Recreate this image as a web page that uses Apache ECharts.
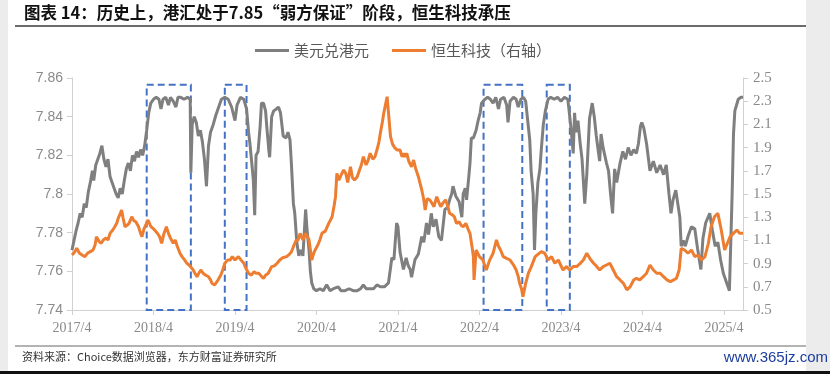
<!DOCTYPE html>
<html>
<head>
<meta charset="utf-8">
<script src="https://cdn.jsdelivr.net/npm/echarts@6/dist/echarts.min.js"></script>
<style>html,body{margin:0;padding:0;background:#fff;}#chart{width:830px;height:374px;}</style>
</head>
<body>
<div id="chart"></div>
<script>
// x = months since 2017/4
const xTickLabels = ['2017/4','2018/4','2019/4','2020/4','2021/4','2022/4','2023/4','2024/4','2025/4'];
const xTickMonths = [0,12,24,36,48,60,72,84,96];
const leftTicks = [7.74,7.76,7.78,7.80,7.82,7.84,7.86];
const rightTicks = [0.5,0.7,0.9,1.1,1.3,1.5,1.7,1.9,2.1,2.3,2.5];
const seriesNames = ['美元兑港元','恒生科技（右轴）'];
// peg "weak-side" periods (months since 2017/4)
const pegBoxes = [[11.0,17.5],[22.5,25.7],[60.6,66.3],[69.9,73.3]];

const usdHkdPoints = [
[0,7.771],[0.3,7.776],[0.6,7.781],[0.9,7.785],[1.2,7.790],[1.5,7.788],[1.8,7.795],[2.1,7.793],[2.4,7.801],[2.7,7.806],
[3.0,7.812],[3.2,7.807],[3.5,7.815],[3.8,7.818],[4.1,7.821],[4.4,7.825],[4.7,7.818],[5.0,7.814],[5.3,7.818],[5.6,7.809],
[5.9,7.806],[6.2,7.803],[6.5,7.800],[6.8,7.798],[7.1,7.803],[7.4,7.800],[7.7,7.807],[8.0,7.813],[8.3,7.816],[8.6,7.812],
[8.9,7.820],[9.2,7.817],[9.5,7.822],[9.8,7.819],[10.1,7.823],[10.4,7.820],[10.7,7.825],[11.0,7.833],[11.3,7.842],[11.6,7.847],
[12.0,7.849],[12.4,7.850],[12.8,7.849],[13.1,7.844],[13.4,7.849],[13.8,7.850],[14.2,7.846],[14.5,7.850],[14.9,7.848],[15.3,7.845],
[15.6,7.850],[16.0,7.850],[16.5,7.849],[17.0,7.850],[17.4,7.849],[17.5,7.811],[17.7,7.836],[18.0,7.840],[18.3,7.837],[18.6,7.830],
[18.9,7.833],[19.2,7.827],[19.5,7.818],[19.8,7.804],[20.1,7.825],[20.4,7.832],[20.8,7.836],[21.2,7.841],[21.6,7.845],[22.0,7.849],
[22.5,7.850],[23.0,7.849],[23.5,7.845],[24.0,7.838],[24.3,7.846],[24.8,7.850],[25.3,7.849],[25.7,7.844],[26.0,7.832],[26.2,7.826],
[26.5,7.815],[26.7,7.807],[26.9,7.789],[27.1,7.820],[27.4,7.822],[27.7,7.835],[27.9,7.847],[28.2,7.847],[28.5,7.843],[28.7,7.834],
[29.0,7.822],[29.1,7.819],[29.4,7.840],[29.7,7.843],[30.1,7.844],[30.4,7.845],[30.7,7.842],[31.1,7.830],[31.5,7.829],[31.8,7.832],
[32.1,7.828],[32.3,7.816],[32.6,7.795],[32.8,7.790],[33.1,7.775],[33.4,7.768],[33.7,7.771],[34.0,7.768],[34.4,7.792],[34.6,7.782],
[34.9,7.771],[35.1,7.760],[35.3,7.754],[35.6,7.751],[36.0,7.750],[36.5,7.751],[37.0,7.750],[37.5,7.753],[38.0,7.750],[38.5,7.751],
[39.2,7.752],[39.6,7.750],[40.2,7.750],[40.8,7.751],[41.4,7.750],[42.0,7.750],[42.5,7.751],[42.9,7.753],[43.3,7.751],[43.8,7.751],
[44.4,7.751],[44.9,7.753],[45.4,7.752],[46.0,7.752],[46.6,7.754],[47.1,7.767],[47.4,7.766],[47.8,7.785],[48.0,7.783],[48.3,7.770],
[48.8,7.761],[49.2,7.767],[49.5,7.763],[49.8,7.761],[50.0,7.757],[50.5,7.766],[51.0,7.769],[51.5,7.778],[51.8,7.775],[52.2,7.785],
[52.5,7.779],[52.9,7.790],[53.2,7.783],[53.6,7.787],[54.0,7.778],[54.4,7.776],[54.9,7.792],[55.3,7.793],[55.6,7.797],[55.9,7.800],
[56.1,7.804],[56.5,7.799],[57.0,7.796],[57.4,7.788],[57.6,7.800],[57.9,7.803],[58.1,7.797],[58.4,7.808],[58.6,7.816],[58.8,7.829],
[59.1,7.829],[59.5,7.833],[59.8,7.838],[60.1,7.842],[60.3,7.847],[60.8,7.849],[61.2,7.850],[61.6,7.849],[62.0,7.847],[62.4,7.850],
[62.8,7.844],[63.1,7.849],[63.6,7.850],[64.0,7.846],[64.2,7.837],[64.5,7.848],[65.0,7.850],[65.4,7.849],[65.7,7.845],[66.1,7.849],
[66.5,7.850],[66.8,7.848],[67.1,7.838],[67.4,7.828],[67.6,7.812],[67.9,7.800],[68.1,7.771],[68.3,7.790],[68.6,7.806],[68.9,7.813],
[69.1,7.823],[69.4,7.836],[69.7,7.843],[70.1,7.849],[70.5,7.850],[71.0,7.849],[71.5,7.850],[72.0,7.848],[72.5,7.850],[73.0,7.849],
[73.2,7.843],[73.5,7.833],[73.8,7.821],[74.0,7.842],[74.2,7.832],[74.5,7.838],[74.8,7.827],[75.1,7.818],[75.5,7.795],[75.8,7.810],
[76.2,7.839],[76.6,7.847],[76.9,7.840],[77.2,7.830],[77.5,7.822],[77.7,7.817],[77.9,7.831],[78.2,7.824],[78.7,7.816],[79.0,7.812],
[79.3,7.800],[79.6,7.790],[79.9,7.813],[80.2,7.806],[80.7,7.816],[81.1,7.822],[81.5,7.818],[81.9,7.824],[82.3,7.820],[82.7,7.823],
[83.1,7.821],[83.4,7.826],[83.7,7.835],[83.9,7.837],[84.2,7.834],[84.6,7.826],[85.1,7.812],[85.6,7.817],[86.1,7.811],[86.6,7.815],
[87.1,7.810],[87.5,7.815],[87.9,7.800],[88.2,7.790],[88.5,7.797],[88.9,7.802],[89.2,7.795],[89.5,7.788],[89.7,7.773],[90.0,7.776],
[90.3,7.773],[90.7,7.778],[91.2,7.783],[91.7,7.782],[92.1,7.772],[92.6,7.761],[92.9,7.777],[93.3,7.785],[93.9,7.790],[94.3,7.781],
[94.7,7.773],[95.1,7.775],[95.5,7.766],[95.9,7.759],[96.4,7.754],[96.8,7.750],[97.0,7.775],[97.2,7.800],[97.4,7.831],[97.6,7.843],
[98.1,7.849],[98.5,7.850],[98.8,7.850]
];

const hstechPoints = [
[0,0.974],[0.4,1.00],[0.7,1.032],[1.1,0.99],[1.5,0.975],[1.9,0.960],[2.3,0.99],[2.7,1.003],[3.1,1.017],[3.4,1.06],
[3.6,1.132],[4.0,1.09],[4.3,1.075],[4.6,1.104],[5.0,1.12],[5.3,1.104],[5.6,1.161],[6.0,1.19],[6.3,1.218],[6.6,1.25],
[6.8,1.290],[7.1,1.33],[7.3,1.362],[7.5,1.30],[7.8,1.218],[8.1,1.23],[8.4,1.247],[8.8,1.304],[9.1,1.27],[9.4,1.261],
[9.8,1.218],[10.1,1.16],[10.3,1.132],[10.6,1.20],[11.0,1.25],[11.2,1.276],[11.6,1.22],[12.0,1.20],[12.2,1.190],[12.6,1.16],
[12.9,1.132],[13.2,1.075],[13.5,1.15],[13.9,1.218],[14.2,1.16],[14.5,1.12],[14.9,1.075],[15.2,1.104],[15.5,1.05],[15.9,0.989],
[16.2,0.96],[16.6,0.93],[16.9,0.903],[17.2,0.89],[17.4,0.874],[17.8,0.85],[18.1,0.817],[18.4,0.787],[18.7,0.82],[19.0,0.845],
[19.3,0.817],[19.7,0.80],[20.1,0.787],[20.4,0.76],[20.6,0.730],[21.0,0.716],[21.3,0.74],[21.5,0.759],[21.9,0.80],[22.2,0.845],
[22.5,0.903],[22.9,0.93],[23.3,0.931],[23.6,0.96],[24.0,0.931],[24.5,0.960],[24.9,0.93],[25.3,0.903],[25.6,0.86],[26.0,0.817],
[26.4,0.80],[26.8,0.830],[27.1,0.817],[27.5,0.817],[27.9,0.79],[28.2,0.773],[28.5,0.80],[28.9,0.817],[29.4,0.874],[29.8,0.88],
[30.2,0.903],[30.6,0.931],[31.0,0.95],[31.6,0.960],[32.0,0.98],[32.3,1.00],[32.6,1.046],[33.0,1.10],[33.3,1.104],[33.6,1.161],
[34.0,1.104],[34.4,1.161],[34.9,1.104],[35.1,1.02],[35.3,0.931],[35.6,0.99],[35.8,1.017],[36.2,1.06],[36.5,1.104],[36.8,1.161],
[37.3,1.18],[37.8,1.247],[38.1,1.28],[38.3,1.304],[38.6,1.40],[38.8,1.477],[39.0,1.678],[39.3,1.62],[39.6,1.66],[40.0,1.707],
[40.3,1.68],[40.6,1.60],[41.0,1.735],[41.3,1.64],[41.6,1.62],[42.0,1.649],[42.3,1.70],[42.6,1.75],[42.9,1.822],[43.3,1.75],
[43.6,1.79],[43.9,1.851],[44.3,1.80],[44.6,1.82],[44.9,1.879],[45.2,1.95],[45.4,2.023],[45.7,2.12],[45.9,2.196],[46.1,2.253],
[46.4,2.339],[46.6,2.20],[46.9,1.994],[47.2,1.93],[47.5,1.90],[47.9,1.879],[48.3,1.879],[48.6,1.82],[48.8,1.851],[49.0,1.822],
[49.3,1.851],[49.6,1.78],[50.0,1.735],[50.3,1.793],[50.6,1.72],[51.0,1.649],[51.3,1.58],[51.5,1.535],[51.8,1.45],[52.0,1.362],
[52.3,1.46],[52.7,1.448],[53.0,1.42],[53.3,1.391],[53.7,1.477],[54.0,1.43],[54.3,1.391],[54.6,1.420],[55.0,1.45],[55.3,1.40],
[55.6,1.334],[56.0,1.32],[56.3,1.304],[56.6,1.247],[57.0,1.26],[57.3,1.23],[57.6,1.218],[58.0,1.247],[58.3,1.20],[58.6,1.161],
[58.9,1.046],[59.1,0.960],[59.2,0.759],[59.5,1.017],[60.0,0.96],[60.5,0.931],[60.8,0.88],[61.0,0.845],[61.5,0.93],[62.0,0.989],
[62.5,1.104],[62.8,1.05],[63.1,1.017],[63.5,0.960],[64.0,0.945],[64.5,0.931],[65.0,0.89],[65.4,0.845],[65.7,0.79],[65.9,0.730],
[66.2,0.68],[66.4,0.615],[66.8,0.73],[67.2,0.817],[67.6,0.87],[68.2,0.960],[68.6,0.98],[69.1,1.003],[69.6,0.99],[70.1,0.931],
[70.6,0.960],[71.1,0.903],[71.6,0.931],[72.3,0.845],[72.8,0.874],[73.3,0.845],[73.8,0.874],[74.3,0.874],[74.8,0.90],[75.3,0.931],
[75.8,0.989],[76.3,0.94],[76.8,0.903],[77.2,0.88],[77.7,0.845],[78.2,0.874],[78.7,0.888],[79.2,0.903],[79.7,0.845],[80.2,0.787],
[80.7,0.759],[81.2,0.730],[81.7,0.673],[82.2,0.701],[82.7,0.759],[83.1,0.773],[83.6,0.759],[84.1,0.787],[84.6,0.817],[85.1,0.888],
[85.6,0.845],[86.1,0.817],[86.6,0.817],[87.1,0.787],[87.6,0.759],[88.1,0.744],[88.6,0.759],[89.0,0.773],[89.4,0.845],[89.7,1.032],
[90.2,1.017],[90.7,0.989],[91.2,1.017],[91.7,0.960],[92.2,0.974],[92.7,0.931],[93.2,0.960],[93.7,1.075],[94.1,1.218],[94.6,1.304],
[95.1,1.334],[95.6,1.190],[96.1,1.017],[96.5,1.075],[96.9,1.132],[97.4,1.161],[97.9,1.190],[98.3,1.161],[98.8,1.161]
];

const chart = echarts.init(document.getElementById('chart'), null, {renderer:'canvas'});
const axisGray = '#d0d0d0';
const labelGray = '#8a8a8a';
const boxTop = 7.8565, boxBottom = 7.74;

chart.setOption({
  animation:false,
  backgroundColor:'#ffffff',
  grid:{left:72,right:87,top:78,bottom:64},
  legend:{
    left:250, top:38, itemWidth:34, itemHeight:3, itemGap:23, itemTextGap:5,
    textStyle:{fontSize:15,color:'#595959',fontFamily:'Noto Sans CJK SC'},
    data:[{name:seriesNames[0],icon:'rect'},{name:seriesNames[1],icon:'rect'}]
  },
  xAxis:{
    type:'value', min:0, max:98.8,
    axisLine:{show:true,lineStyle:{color:axisGray,width:1}},
    axisTick:{show:true,customValues:xTickMonths,length:5,lineStyle:{color:axisGray}},
    axisLabel:{customValues:xTickMonths,formatter:v=>xTickLabels[Math.round(v/12)],color:labelGray,fontSize:14,fontFamily:'Liberation Serif',margin:11},
    splitLine:{show:false}
  },
  yAxis:[
    {type:'value',min:7.74,max:7.86,position:'left',
     axisLine:{show:true,lineStyle:{color:axisGray}},
     axisTick:{show:true,customValues:leftTicks,length:5,lineStyle:{color:axisGray}},
     axisLabel:{customValues:leftTicks,formatter:v=>String(+v.toFixed(2)),color:labelGray,fontSize:14,fontFamily:'Liberation Sans',margin:9},
     splitLine:{show:false}},
    {type:'value',min:0.5,max:2.5,position:'right',
     axisLine:{show:true,lineStyle:{color:axisGray}},
     axisTick:{show:true,customValues:rightTicks,length:5,lineStyle:{color:axisGray}},
     axisLabel:{customValues:rightTicks,formatter:v=>v.toFixed(1),color:labelGray,fontSize:15,fontFamily:'Liberation Serif',margin:10},
     splitLine:{show:false}}
  ],
  series:[
    {name:seriesNames[0],type:'line',yAxisIndex:0,data:usdHkdPoints,symbol:'none',showSymbol:false,
     lineStyle:{width:3,color:'#7F7F7F'},itemStyle:{color:'#7F7F7F'},z:2,
     markArea:{silent:true,
       itemStyle:{color:'rgba(0,0,0,0)',borderColor:'#4472C4',borderWidth:2,borderType:[7,4]},
       data:pegBoxes.map(b=>[{xAxis:b[0],yAxis:boxTop},{xAxis:b[1],yAxis:boxBottom}])}},
    {name:seriesNames[1],type:'line',yAxisIndex:1,data:hstechPoints,symbol:'none',showSymbol:false,
     lineStyle:{width:3,color:'#ED7D31'},itemStyle:{color:'#ED7D31'},z:3}
  ],
  graphic:[
    {type:'rect',shape:{x:0,y:0,width:8,height:374},style:{fill:'#ececec'},silent:true},
    {type:'rect',shape:{x:806,y:0,width:24,height:374},style:{fill:'#ececec'},silent:true},
    {type:'text',x:24,y:13,style:{text:'图表 14：历史上，港汇处于7.85“弱方保证”阶段，恒生科技承压',fontSize:16.5,fontWeight:'bold',fill:'#111',fontFamily:'Noto Sans CJK SC',verticalAlign:'middle'}},
    {type:'line',shape:{x1:15,y1:26,x2:806,y2:26},style:{stroke:'#3a3a3a',lineWidth:1.5}},
    {type:'line',shape:{x1:15,y1:346,x2:806,y2:346},style:{stroke:'#9a9a9a',lineWidth:1.5}},
    {type:'text',x:22,y:357,style:{text:'资料来源：Choice数据浏览器，东方财富证券研究所',fontSize:11,fill:'#333',fontFamily:'Noto Sans CJK SC',verticalAlign:'middle'}},
    {type:'text',x:828,y:358,style:{text:'www.365jz.com',fontSize:15,fill:'#1c3d9c',fontFamily:'Liberation Sans',align:'right',verticalAlign:'middle'}},
    {type:'rect',shape:{x:0,y:371,width:830,height:3},style:{fill:'#111'},silent:true}
  ]
});
</script>
</body>
</html>
